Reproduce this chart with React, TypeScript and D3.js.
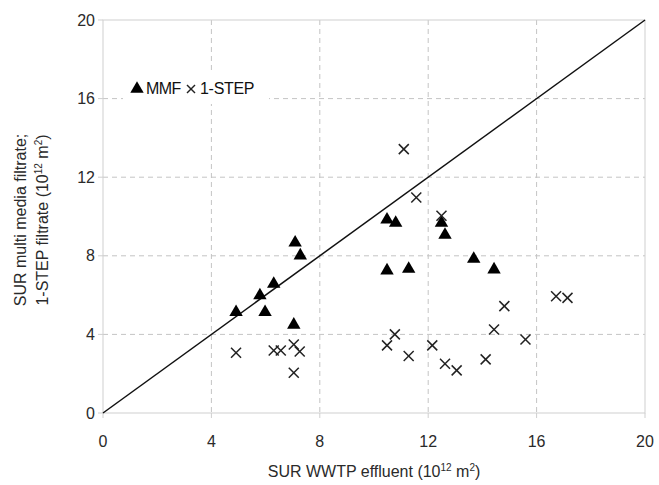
import * as d3 from "d3";

// MMF (triangles)
const mmfX = [4.91, 5.79, 5.98, 6.3, 7.04, 7.09, 7.28, 10.48, 10.8, 10.48, 11.28, 12.49, 12.62, 13.68, 14.43];
const mmfY = [5.13, 5.98, 5.13, 6.57, 4.49, 8.67, 8.01, 9.84, 9.67, 7.25, 7.33, 9.67, 9.06, 7.84, 7.3];

// 1-STEP (crosses)
const stepX = [4.91, 6.3, 6.56, 7.04, 7.26, 7.04, 11.1, 11.56, 12.49, 10.48, 10.77, 11.28, 12.15, 12.62, 13.05, 14.12, 14.43, 14.81, 15.59, 16.72, 17.14];
const stepY = [3.07, 3.18, 3.18, 3.49, 3.13, 2.05, 13.43, 10.97, 10.04, 3.44, 4.0, 2.9, 3.44, 2.51, 2.17, 2.73, 4.25, 5.44, 3.74, 5.94, 5.86];

const ticks = [0, 4, 8, 12, 16, 20];

const W = 659;
const H = 485;
const left = 103;
const right = 645;
const top = 20;
const bottom = 413;

export default function App() {
  const x = d3.scaleLinear().domain([0, 20]).range([left, right]);
  const y = d3.scaleLinear().domain([0, 20]).range([bottom, top]);
  const tri = d3.symbol().type(d3.symbolTriangle).size(78)();
  const grid = "#c4c4c4";
  const font = "'Liberation Sans', Arial, sans-serif";
  const txt = "#2a2a2a";

  return (
    <svg width={W} height={H} style={{ position: "absolute", left: 0, top: 0, background: "#fff" }} fontFamily={font}>
      {/* grid */}
      {ticks.slice(1, -1).map((t) => (
        <g key={"g" + t}>
          <line x1={x(t)} x2={x(t)} y1={top} y2={bottom} stroke={grid} strokeDasharray="5,4" />
          <line x1={left} x2={right} y1={y(t)} y2={y(t)} stroke={grid} strokeDasharray="5,4" />
        </g>
      ))}
      {/* frame */}
      <rect x={left} y={top} width={right - left} height={bottom - top} fill="none" stroke="#cfcfcf" />
      {ticks.map((t) => (
        <g key={"t" + t}>
          <line x1={left - 5} x2={left} y1={y(t)} y2={y(t)} stroke="#cfcfcf" />
          <line x1={x(t)} x2={x(t)} y1={bottom} y2={bottom + 5} stroke="#cfcfcf" />
          <text x={left - 8} y={y(t)} dy="0.35em" textAnchor="end" fontSize={16} fill={txt}>{t}</text>
          <text x={x(t)} y={bottom + 34} textAnchor="middle" fontSize={16} fill={txt}>{t}</text>
        </g>
      ))}
      {/* 1:1 line */}
      <line x1={x(0)} y1={y(0)} x2={x(20)} y2={y(20)} stroke="#111" strokeWidth={1.5} />
      {/* legend */}
      <rect x={123} y={72} width={146} height={32} fill="#fff" />
      <path d={tri} transform={`translate(137,89)`} fill="#000" />
      <text x={146} y={94} fontSize={16} fill="#111" letterSpacing={-0.6}>MMF</text>
      <g transform="translate(191,89)" stroke="#222" strokeWidth={1.5}>
        <line x1={-4} y1={-4} x2={4} y2={4} />
        <line x1={-4} y1={4} x2={4} y2={-4} />
      </g>
      <text x={200} y={94} fontSize={16} fill="#111" letterSpacing={-0.3}>1-STEP</text>
      {/* points */}
      {mmfX.map((v, i) => (
        <path key={"m" + i} d={tri} transform={`translate(${x(v)},${y(mmfY[i])})`} fill="#000" />
      ))}
      {stepX.map((v, i) => (
        <g key={"s" + i} transform={`translate(${x(v)},${y(stepY[i])})`} stroke="#222" strokeWidth={1.5}>
          <line x1={-5} y1={-5} x2={5} y2={5} />
          <line x1={-5} y1={5} x2={5} y2={-5} />
        </g>
      ))}
      {/* axis titles */}
      <text x={374} y={477} textAnchor="middle" fontSize={16} fill={txt}>
        SUR WWTP effluent (10<tspan fontSize={10} dy={-6}>12</tspan><tspan dy={6}> m</tspan><tspan fontSize={10} dy={-6}>2</tspan><tspan dy={6}>)</tspan>
      </text>
      <g transform="translate(0,220) rotate(-90)">
        <text x={0} y={26} textAnchor="middle" fontSize={16} fill={txt}>SUR multi media filtrate;</text>
        <text x={0} y={48} textAnchor="middle" fontSize={16} fill={txt}>
          1-STEP filtrate (10<tspan fontSize={10} dy={-6}>12</tspan><tspan dy={6}> m</tspan><tspan fontSize={10} dy={-6}>2</tspan><tspan dy={6}>)</tspan>
        </text>
      </g>
    </svg>
  );
}
